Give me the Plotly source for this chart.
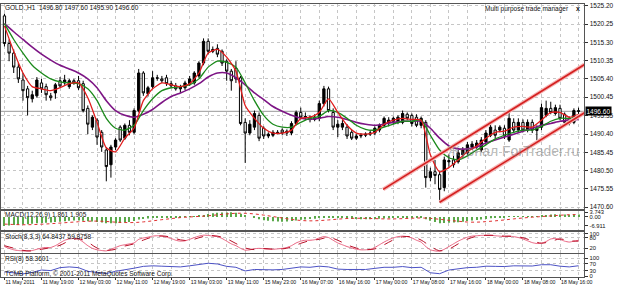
import plotly.graph_objects as go

W, H = 624, 291

# ---------------- data ----------------
bars = list(range(125))
opens = [1522.5, 1515.0, 1512.4, 1508.6, 1505.1, 1502.7, 1500.0, 1500.8, 1504.3, 1503.3,
         1500.8, 1501.6, 1504.9, 1504.3, 1503.3, 1504.9, 1504.9, 1504.1, 1497.4, 1492.3,
         1494.2, 1490.9, 1486.1, 1482.1, 1486.9, 1492.3, 1489.3, 1492.8, 1490.9, 1496.8,
         1507.0, 1501.4, 1503.3, 1505.7, 1505.4, 1505.7, 1504.1, 1503.5, 1502.7, 1503.0,
         1504.1, 1504.3, 1506.2, 1509.7, 1515.6, 1512.9, 1513.7, 1512.9, 1510.2, 1507.5,
         1508.3, 1505.7, 1493.6, 1490.7, 1492.3, 1495.5, 1492.0, 1489.9, 1490.1, 1490.9,
         1491.5, 1490.7, 1490.7, 1493.3, 1496.3, 1495.0, 1495.0, 1494.4, 1494.7, 1498.7,
         1502.7, 1496.3, 1492.3, 1492.3, 1492.3, 1490.9, 1489.3, 1489.9, 1490.1, 1490.4,
         1490.7, 1491.5, 1492.8, 1493.6, 1493.9, 1493.6, 1493.6, 1495.8, 1495.5, 1495.0,
         1492.8, 1493.6, 1478.6, 1480.2, 1479.4, 1475.9, 1482.9, 1483.4, 1482.9, 1484.8,
         1485.3, 1486.9, 1486.9, 1486.1, 1488.3, 1490.1, 1491.5, 1491.5, 1492.0, 1488.8,
         1493.6, 1491.5, 1493.6, 1491.5, 1493.6, 1492.0, 1492.3, 1495.5, 1497.4, 1496.0,
         1497.4, 1495.8, 1494.7, 1493.6, 1496.8]
highs = [1523.1, 1516.1, 1513.4, 1509.7, 1507.0, 1503.5, 1502.2, 1505.9, 1505.4, 1504.1,
         1501.6, 1504.3, 1505.9, 1506.5, 1505.4, 1505.4, 1506.2, 1504.9, 1498.2, 1495.5,
         1494.7, 1491.5, 1486.9, 1487.5, 1489.3, 1492.8, 1493.3, 1494.2, 1497.4, 1508.1,
         1507.5, 1503.5, 1507.5, 1506.5, 1506.2, 1506.5, 1504.9, 1504.3, 1503.8, 1504.9,
         1506.2, 1507.5, 1510.2, 1516.4, 1516.4, 1514.2, 1514.8, 1513.4, 1510.7, 1508.1,
         1510.2, 1506.2, 1494.7, 1494.2, 1496.8, 1496.3, 1492.5, 1490.9, 1491.5, 1491.5,
         1492.0, 1491.7, 1493.9, 1496.8, 1497.6, 1496.3, 1495.5, 1495.8, 1499.5, 1503.5,
         1503.3, 1497.4, 1494.2, 1494.2, 1493.1, 1491.5, 1490.4, 1490.7, 1490.9, 1491.5,
         1492.5, 1493.3, 1495.2, 1495.0, 1495.2, 1495.5, 1496.8, 1496.3, 1496.0, 1495.8,
         1495.2, 1494.2, 1481.3, 1483.4, 1480.2, 1484.3, 1484.8, 1484.5, 1486.1, 1486.9,
         1488.3, 1488.5, 1488.8, 1489.6, 1491.5, 1493.1, 1492.8, 1492.8, 1492.8, 1496.8,
         1494.7, 1494.7, 1494.4, 1494.4, 1494.4, 1492.8, 1498.7, 1499.5, 1499.2, 1498.4,
         1498.4, 1496.3, 1495.2, 1497.4, 1497.6]
lows = [1514.2, 1510.2, 1507.0, 1504.3, 1499.5, 1495.5, 1499.0, 1500.3, 1501.6, 1499.5,
        1499.5, 1500.0, 1503.0, 1503.8, 1502.7, 1503.8, 1502.4, 1496.3, 1490.4, 1491.5,
        1487.5, 1485.6, 1477.6, 1478.6, 1486.1, 1488.3, 1488.8, 1490.1, 1490.4, 1496.3,
        1500.8, 1500.6, 1502.7, 1504.9, 1504.3, 1503.5, 1503.0, 1502.2, 1501.6, 1502.4,
        1503.5, 1503.8, 1505.7, 1509.1, 1512.1, 1512.4, 1511.3, 1508.9, 1504.9, 1502.2,
        1504.3, 1492.8, 1482.6, 1490.1, 1491.5, 1488.5, 1489.1, 1489.3, 1489.6, 1490.4,
        1490.1, 1489.9, 1490.1, 1492.8, 1494.4, 1494.2, 1493.6, 1493.9, 1493.9, 1497.9,
        1496.3, 1491.5, 1489.6, 1491.5, 1489.1, 1488.8, 1488.8, 1489.3, 1489.6, 1489.9,
        1490.1, 1490.9, 1492.3, 1492.5, 1493.1, 1493.1, 1493.1, 1494.2, 1492.5, 1492.3,
        1492.0, 1475.9, 1477.6, 1476.8, 1471.9, 1474.9, 1481.6, 1481.3, 1482.4, 1484.0,
        1484.8, 1486.1, 1486.4, 1485.6, 1487.5, 1489.6, 1489.3, 1490.9, 1489.1, 1488.3,
        1490.7, 1490.7, 1490.9, 1490.9, 1490.7, 1488.8, 1491.5, 1495.0, 1495.8, 1495.5,
        1494.2, 1493.1, 1492.8, 1493.1, 1495.9]
closes = [1515.0, 1512.4, 1508.6, 1505.4, 1502.2, 1500.3, 1501.1, 1505.1, 1502.7, 1501.1,
          1500.3, 1503.8, 1503.5, 1505.1, 1504.9, 1504.3, 1503.0, 1496.8, 1493.1, 1495.0,
          1489.6, 1486.9, 1481.6, 1486.9, 1488.8, 1488.8, 1492.8, 1490.9, 1496.8, 1507.0,
          1501.6, 1503.0, 1505.7, 1505.6, 1504.9, 1504.1, 1503.5, 1502.7, 1503.3, 1504.3,
          1505.4, 1507.0, 1509.7, 1515.6, 1512.9, 1513.4, 1512.1, 1509.7, 1507.5, 1504.9,
          1505.4, 1493.3, 1490.7, 1493.1, 1496.0, 1489.3, 1489.9, 1490.4, 1490.9, 1490.8,
          1490.7, 1491.2, 1493.3, 1496.3, 1495.0, 1495.2, 1494.4, 1495.0, 1498.7, 1502.7,
          1496.8, 1492.3, 1493.1, 1493.3, 1489.9, 1489.3, 1489.9, 1490.1, 1490.4, 1490.7,
          1492.0, 1492.8, 1494.7, 1494.2, 1494.7, 1495.0, 1496.0, 1494.7, 1493.3, 1492.8,
          1494.7, 1478.6, 1480.2, 1479.2, 1475.4, 1483.4, 1483.2, 1482.1, 1485.3, 1486.1,
          1487.5, 1487.7, 1488.0, 1488.8, 1490.7, 1492.3, 1490.1, 1492.3, 1489.9, 1494.7,
          1491.5, 1493.6, 1491.5, 1493.6, 1491.5, 1491.4, 1497.6, 1497.4, 1496.3, 1497.6,
          1494.7, 1493.6, 1493.3, 1496.8, 1496.6]

ma_bars = list(range(0, 125, 2))
ma_fast = [1519.8, 1512.9, 1507.0, 1503.3, 1502.7, 1502.2, 1503.0, 1504.1, 1504.3, 1500.3,
           1493.6, 1486.7, 1485.6, 1489.3, 1492.0, 1499.5, 1502.7, 1504.3, 1503.8, 1503.3,
           1504.1, 1507.0, 1512.4, 1513.4, 1511.3, 1507.5, 1498.2, 1494.7, 1492.0, 1490.7,
           1490.7, 1491.5, 1494.7, 1495.0, 1496.3, 1500.0, 1496.3, 1492.8, 1490.7, 1490.4,
           1490.9, 1493.1, 1494.2, 1494.7, 1494.4, 1494.2, 1484.8, 1480.2, 1481.3, 1483.4,
           1485.6, 1487.2, 1489.3, 1490.9, 1491.2, 1492.3, 1492.5, 1492.3, 1494.2, 1496.3,
           1496.3, 1495.0, 1495.8]
ma_mid = [1520.4, 1516.1, 1512.4, 1509.1, 1507.0, 1505.4, 1504.6, 1504.3, 1504.1, 1502.7,
          1499.5, 1494.7, 1492.0, 1491.5, 1492.8, 1496.8, 1500.0, 1502.2, 1503.0, 1503.3,
          1503.8, 1505.4, 1508.6, 1510.2, 1509.9, 1508.6, 1504.3, 1499.5, 1495.5, 1493.1,
          1492.3, 1492.3, 1493.6, 1494.7, 1495.2, 1496.8, 1496.3, 1494.7, 1492.8, 1491.7,
          1491.5, 1492.3, 1493.1, 1493.9, 1493.9, 1494.2, 1490.1, 1486.1, 1484.0, 1483.4,
          1484.5, 1486.1, 1487.5, 1489.1, 1490.1, 1490.9, 1491.5, 1491.5, 1492.5, 1493.9,
          1494.7, 1494.7, 1495.0]
ma_slow = [1520.4, 1518.2, 1516.1, 1514.0, 1512.1, 1510.5, 1509.1, 1508.1, 1507.0, 1505.4,
           1503.0, 1499.5, 1496.8, 1495.5, 1495.0, 1495.8, 1497.1, 1499.0, 1500.6, 1501.6,
           1502.7, 1504.1, 1505.9, 1507.0, 1507.0, 1505.7, 1503.8, 1501.6, 1499.8, 1497.9,
           1496.6, 1495.5, 1494.7, 1494.4, 1494.7, 1495.2, 1495.0, 1494.4, 1493.6, 1493.1,
           1492.8, 1493.1, 1493.6, 1493.9, 1493.9, 1493.9, 1492.0, 1489.3, 1487.2, 1486.4,
           1486.4, 1486.9, 1488.0, 1488.8, 1489.6, 1490.4, 1491.2, 1492.0, 1492.8, 1493.3,
           1493.9, 1494.2, 1494.4]

channel_lower_x = [94, 125.3]
channel_lower_y = [1471.9, 1496.2]
channel_upper_x = [81.8, 125.3]
channel_upper_y = [1475.4, 1509.3]

macd_main = [-6.9, -6.5, -6.2, -6.0, -5.8, -5.6, -5.3, -4.9, -4.6, -4.4,
             -4.2, -3.9, -3.6, -3.3, -3.0, -2.8, -2.7, -3.0, -3.4, -3.5,
             -3.8, -4.2, -4.8, -4.9, -4.8, -4.6, -4.2, -3.9, -3.2, -2.0,
             -1.6, -1.2, -0.9, -0.6, -0.4, -0.3, -0.2, -0.2, -0.2, -0.1,
             0.1, 0.4, 0.9, 1.5, 2.2, 2.8, 3.2, 3.4, 3.5, 3.7,
             3.3, 2.5, 1.2, 0.0, -0.9, -1.8, -2.5, -3.0, -3.3, -3.5,
             -3.6, -3.5, -3.2, -2.7, -2.2, -1.9, -1.6, -1.3, -0.8, -0.2,
             -0.2, -0.5, -0.7, -0.9, -1.2, -1.5, -1.6, -1.7, -1.7, -1.7,
             -1.6, -1.4, -1.2, -1.0, -0.8, -0.7, -0.5, -0.4, -0.4, -0.4,
             -0.4, -1.8, -2.9, -3.8, -4.8, -4.7, -4.5, -4.3, -4.0, -3.6,
             -3.2, -2.8, -2.4, -2.0, -1.5, -1.0, -0.8, -0.5, -0.4, 0.1,
             0.2, 0.4, 0.4, 0.5, 0.5, 0.5, 1.0, 1.5, 1.8, 2.0,
             1.9, 1.8, 1.7, 1.8, 1.861]
sig_bars = list(range(0, 125, 2))
macd_signal = [-5.5, -5.8, -6.0, -5.9, -5.6, -5.2, -4.7, -4.2, -3.7, -3.3,
               -3.2, -3.5, -4.0, -4.3, -4.3, -3.8, -3.0, -2.1, -1.3, -0.5,
               0.0, 0.4, 0.9, 1.6, 2.3, 2.8, 2.8, 2.3, 1.4, 0.3,
               -0.8, -1.9, -2.7, -3.0, -2.8, -2.3, -1.7, -1.2, -1.0, -1.1,
               -1.3, -1.5, -1.5, -1.3, -1.0, -0.8, -1.1, -1.8, -2.6, -3.3,
               -3.9, -4.0, -3.6, -3.0, -2.3, -1.5, -0.8, -0.2, 0.3, 0.8,
               1.3, 1.7, 1.905]
stoch_main = [30, 20, 12, 8, 6, 5, 8, 15, 22, 25,
              25, 35, 50, 65, 72, 75, 72, 55, 35, 20,
              12, 8, 6, 15, 25, 35, 40, 45, 50, 70,
              78, 82, 88, 90, 88, 82, 75, 65, 60, 62,
              70, 80, 88, 93, 92, 88, 85, 75, 60, 45,
              35, 20, 10, 12, 18, 20, 18, 15, 15, 17,
              20, 25, 35, 50, 60, 65, 65, 68, 78, 85,
              80, 65, 50, 40, 30, 22, 15, 12, 12, 15,
              25, 40, 55, 68, 78, 85, 88, 85, 78, 65,
              55, 30, 12, 6, 4, 15, 30, 45, 60, 72,
              82, 88, 90, 92, 93, 93, 90, 88, 85, 88,
              85, 80, 72, 62, 52, 47, 48, 58, 72, 75,
              70, 60, 55, 60, 64.8437]
stoch_signal = [35, 21, 9, 6, 15, 24, 37, 62, 73, 54,
                22, 9, 15, 33, 45, 66, 83, 89, 82, 67,
                64, 79, 91, 88, 73, 47, 22, 13, 19, 16,
                17, 27, 48, 63, 70, 81, 65, 40, 22, 13,
                17, 40, 67, 84, 84, 66, 32, 7, 16, 45,
                71, 87, 92, 92, 88, 86, 79, 62, 49, 59,
                72, 62, 59.8758]
rsi_vals = [25, 18, 14, 22, 35, 32, 48, 52, 48, 28,
            22, 16, 28, 35, 45, 55, 58, 56, 52, 52,
            58, 66, 72, 68, 55, 50, 30, 38, 35, 36,
            38, 45, 52, 50, 56, 52, 40, 38, 36, 38,
            44, 50, 50, 54, 48, 50, 20, 15, 35, 42,
            48, 50, 56, 55, 54, 58, 56, 57, 64, 64,
            56, 52, 58.3601]

time_labels = ["11 May 2011", "11 May 19:00", "12 May 03:00", "12 May 11:00",
               "12 May 19:00", "13 May 03:00", "13 May 11:00", "15 May 23:00",
               "16 May 07:00", "16 May 16:00", "17 May 00:00", "17 May 08:00",
               "17 May 16:00", "18 May 00:00", "18 May 08:00", "18 May 16:00"]
price_ticks = [1525.20, 1520.25, 1515.30, 1510.35, 1505.40, 1500.45,
               1495.35, 1490.40, 1485.45, 1480.50, 1475.55, 1470.60]
macd_ticks = [3.743, 0.0, -6.911]
macd_ticktext = ["3.743", "0.00", "-6.911"]
stoch_ticks = [100, 80, 20]
rsi_ticks = [100, 70, 30, 0]

# ---------------- helpers ----------------
def px(p):
    return p / W

def py(p):
    return 1 - p / H

FONT = "Liberation Sans"
grid_vals = list(range(0, 125, 4))
grid_text = [time_labels[v // 8] if v % 8 == 0 else "" for v in grid_vals]

fig = go.Figure()

# candles
fig.add_trace(go.Candlestick(
    x=bars, open=opens, high=highs, low=lows, close=closes,
    increasing=dict(line=dict(color="black", width=1), fillcolor="black"),
    decreasing=dict(line=dict(color="black", width=1), fillcolor="white"),
    whiskerwidth=0, xaxis="x", yaxis="y", hoverinfo="skip"))

# moving averages
for vals, col, w in [(ma_slow, "#7d1585", 1.6), (ma_mid, "#1b8a1b", 1.3), (ma_fast, "#e01c1c", 1.3)]:
    fig.add_trace(go.Scatter(x=ma_bars, y=vals, mode="lines",
                             line=dict(color=col, width=w, shape="spline", smoothing=0.6),
                             xaxis="x", yaxis="y", hoverinfo="skip"))

# channel lines
for cx, cy in [(channel_lower_x, channel_lower_y), (channel_upper_x, channel_upper_y)]:
    fig.add_trace(go.Scatter(x=cx, y=cy, mode="lines", line=dict(color="#f6b4b4", width=4),
                             xaxis="x", yaxis="y", hoverinfo="skip"))
    fig.add_trace(go.Scatter(x=cx, y=cy, mode="lines", line=dict(color="#d42020", width=1.6),
                             xaxis="x", yaxis="y", hoverinfo="skip"))

# MACD
fig.add_trace(go.Bar(x=bars, y=macd_main, width=0.22, marker=dict(color="#5aa84a", line=dict(width=0)),
                     xaxis="x2", yaxis="y2", hoverinfo="skip"))
fig.add_trace(go.Scatter(x=sig_bars, y=macd_signal, mode="lines",
                         line=dict(color="#e03030", width=1, dash="dot", shape="spline"),
                         xaxis="x2", yaxis="y2", hoverinfo="skip"))

# Stochastic
fig.add_trace(go.Scatter(x=bars, y=stoch_main, mode="lines",
                         line=dict(color="#e8607e", width=1, shape="spline", smoothing=0.6),
                         xaxis="x3", yaxis="y3", hoverinfo="skip"))
fig.add_trace(go.Scatter(x=sig_bars, y=stoch_signal, mode="lines",
                         line=dict(color="#b81028", width=1, dash="dash", shape="spline"),
                         xaxis="x3", yaxis="y3", hoverinfo="skip"))

# RSI
fig.add_trace(go.Scatter(x=sig_bars, y=rsi_vals, mode="lines",
                         line=dict(color="#4c52c4", width=1),
                         xaxis="x4", yaxis="y4", hoverinfo="skip"))

xdomain = [px(1), px(592)]
xbase = dict(range=[-0.75, 125.27], domain=xdomain, showgrid=True, gridcolor="#c6c6c6",
             griddash="dot", gridwidth=1, tickmode="array", tickvals=grid_vals,
             zeroline=False, showline=True, mirror=True, linecolor="#555555", linewidth=1,
             fixedrange=True)
ybase = dict(side="right", showline=True, mirror=True, linecolor="#555555", linewidth=1,
             zeroline=False, ticks="outside", ticklen=3, tickcolor="#333333",
             tickfont=dict(size=6.5, color="#111111", family=FONT), fixedrange=True)
ysub_font = dict(size=5.8, color="#111111", family=FONT)

fig.update_layout(
    width=W, height=H, margin=dict(l=0, r=0, t=0, b=0),
    paper_bgcolor="white", plot_bgcolor="white", showlegend=False,
    font=dict(family=FONT, size=6.5, color="#111111"),
    xaxis=dict(**xbase, anchor="y", showticklabels=False, ticks="", rangeslider=dict(visible=False)),
    xaxis2=dict(**xbase, anchor="y2", matches="x", showticklabels=False, ticks=""),
    xaxis3=dict(**xbase, anchor="y3", matches="x", showticklabels=False, ticks=""),
    xaxis4=dict(**xbase, anchor="y4", matches="x", showticklabels=True, ticktext=grid_text,
                ticks="outside", ticklen=2, tickcolor="#333333", ticklabelposition="outside right",
                tickangle=0, tickfont=dict(size=5.2, color="#111111", family=FONT)),
    yaxis=dict(**ybase, anchor="x", domain=[py(210), py(2)], range=[1470.05, 1525.74],
               tickmode="array", tickvals=price_ticks, ticktext=[f"{v:.2f}" for v in price_ticks],
               showgrid=True, gridcolor="#c6c6c6", griddash="dot"),
)
fig.update_layout(
    yaxis2=dict(**{**ybase, "tickfont": ysub_font}, anchor="x2", domain=[py(231), py(212)], range=[-9.9, 4.5],
                tickmode="array", tickvals=macd_ticks, ticktext=macd_ticktext, showgrid=False),
    yaxis3=dict(**{**ybase, "tickfont": ysub_font}, anchor="x3", domain=[py(254), py(233)], range=[-3, 112],
                tickmode="array", tickvals=stoch_ticks, ticktext=[str(v) for v in stoch_ticks],
                showgrid=True, gridcolor="#c6c6c6", griddash="dot"),
    yaxis4=dict(**{**ybase, "tickfont": ysub_font}, anchor="x4", domain=[py(279), py(256)], range=[-4, 120],
                tickmode="array", tickvals=rsi_ticks, ticktext=[str(v) for v in rsi_ticks],
                showgrid=True, gridcolor="#c6c6c6", griddash="dot"),
)

# bid line
fig.add_shape(type="line", xref="x domain", x0=0, x1=1, yref="y", y0=closes[-1], y1=closes[-1],
              line=dict(color="#9a9a9a", width=1), layer="below")

ann = []
def text(x, y, s, size=6.5, color="#111111", xanchor="left", **kw):
    ann.append(dict(x=px(x), y=py(y), xref="paper", yref="paper", text=s, showarrow=False,
                    xanchor=xanchor, yanchor="middle", font=dict(size=size, color=color, family=FONT), **kw))

text(3, 6, f"GOLD.,H1  {opens[-1]:.2f} {highs[-1]:.2f} {lows[-1]:.2f} {closes[-1]:.2f}")
text(578, 7, "Multi purpose trade manager", xanchor="right")
text(586, 7, "<b>x</b>", size=7, xanchor="center")
text(3, 216, f"MACD(12,26,9) {macd_main[-1]:.3f} {macd_signal[-1]:.3f}")
text(3, 238, f"Stoch(8,3,3) {stoch_main[-1]:.4f} {stoch_signal[-1]:.4f}")
text(3, 261, f"RSI(8) {rsi_vals[-1]:.4f}")
text(3, 276, "TCMB Platform, © 2001-2011 MetaQuotes Software Corp.")
text(520, 151, "Журнал ForTrader.ru", size=14, color="rgba(120,120,120,0.55)", xanchor="center")
ann.append(dict(x=px(593), y=closes[-1], xref="paper", yref="y", text=f"{closes[-1]:.2f}",
                showarrow=False, xanchor="left", yanchor="middle", bgcolor="black", borderpad=0.5,
                font=dict(size=6.5, color="white", family=FONT)))
fig.update_layout(annotations=ann)

fig.write_html("out.html")
